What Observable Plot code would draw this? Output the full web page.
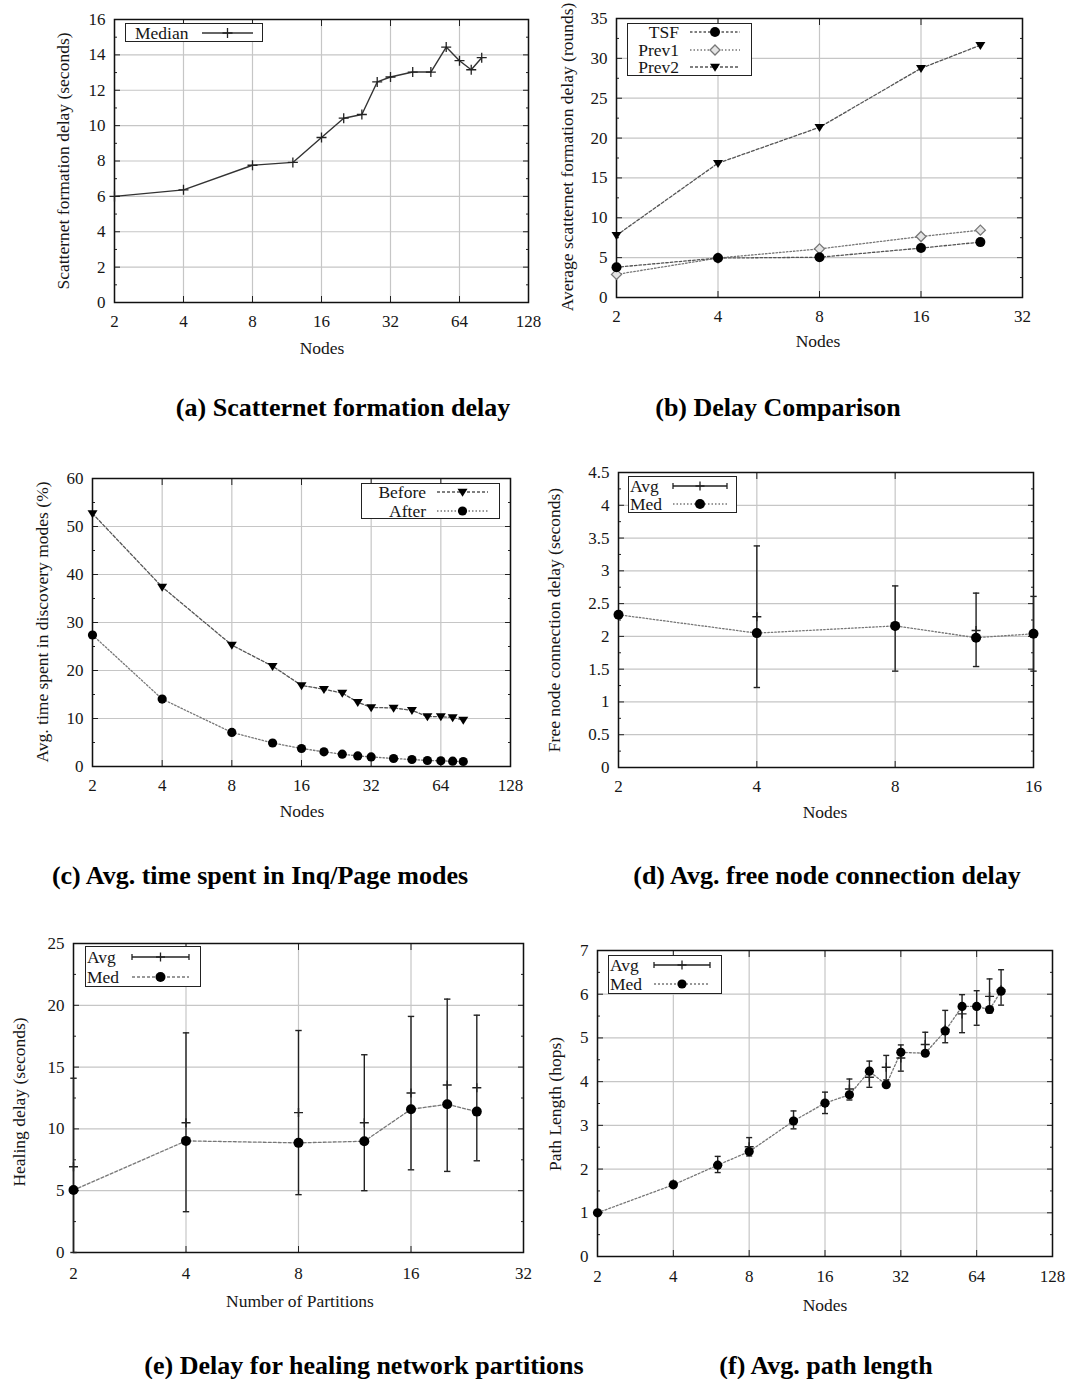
<!DOCTYPE html>
<html><head><meta charset="utf-8">
<script src="https://cdn.jsdelivr.net/npm/d3@7"></script>
<script src="https://cdn.jsdelivr.net/npm/@observablehq/plot@0.6"></script>
<style>
body{margin:0;background:#fff;}
#root{position:relative;width:1069px;height:1379px;overflow:hidden;font-family:"Liberation Serif","Times New Roman",serif;color:#161616;}
.abs{position:absolute;white-space:nowrap;}
.ylab{font-size:17.5px;transform:translate(-50%,-50%) rotate(-90deg);}
.xlab{font-size:17.5px;transform:translate(-50%,-50%);}
.cap{font-size:26px;font-weight:bold;transform:translate(-50%,-50%);color:#000;}
.legbox{border:1.4px solid #222;background:#fff;box-sizing:border-box;}
.legtxt{font-size:17.5px;line-height:18px;}
</style></head>
<body><div id="root"></div>
<script>
// ---------------- data ----------------
// (a) Scatternet formation delay
const nodesA = [2, 4, 8, 12, 16, 20, 24, 28, 32, 40, 48, 56, 64, 72, 80];
const medianA = [6.0, 6.37, 7.76, 7.92, 9.33, 10.42, 10.63, 12.47, 12.75, 13.03, 13.03, 14.44, 13.67, 13.16, 13.84];
// (b) Delay comparison
const nodesB = [2, 4, 8, 16, 24];
const tsfB = [3.8, 4.95, 5.05, 6.2, 6.95];
const prev1B = [2.9, 4.95, 6.1, 7.65, 8.45];
const prev2B = [7.8, 16.85, 21.35, 28.75, 31.65];
// (c) Avg. time spent in Inq/Page modes
const nodesC = [2, 4, 8, 12, 16, 20, 24, 28, 32, 40, 48, 56, 64, 72, 80];
const beforeC = [52.7, 37.4, 25.3, 20.9, 16.9, 16.1, 15.3, 13.4, 12.3, 12.2, 11.7, 10.4, 10.4, 10.2, 9.7];
const afterC = [27.4, 14.05, 7.1, 4.9, 3.75, 3.06, 2.57, 2.2, 2.0, 1.67, 1.46, 1.25, 1.18, 1.1, 1.04];
// (d) Avg. free node connection delay
const nodesD = [2, 4, 8, 12, 16];
const avgD = [2.33, 2.30, 2.15, 2.09, 2.05];
const medD = [2.33, 2.05, 2.16, 1.98, 2.04];
const loD = [2.33, 1.22, 1.47, 1.54, 1.47];
const hiD = [2.33, 3.38, 2.77, 2.66, 2.61];
// (e) Delay for healing network partitions
const partsE = [2, 4, 8, 12, 16, 20, 24];
const avgE = [6.94, 10.5, 11.32, 10.5, 12.9, 13.55, 13.33];
const medE = [5.05, 9.03, 8.87, 9.0, 11.59, 11.99, 11.4];
const loE = [0, 3.3, 4.68, 5.0, 6.69, 6.56, 7.42];
const hiE = [14.1, 17.77, 17.96, 16.0, 19.1, 20.5, 19.2];
// (f) Avg. path length
const nodesF = [2, 4, 6, 8, 12, 16, 20, 24, 28, 32, 40, 48, 56, 64, 72, 80];
const avgF = [1.0, 1.66, 2.1, 2.51, 3.12, 3.5, 3.83, 4.1, 4.33, 4.54, 4.85, 5.2, 5.55, 5.72, 5.95, 6.1];
const medF = [1.0, 1.64, 2.09, 2.4, 3.1, 3.51, 3.7, 4.24, 3.93, 4.67, 4.65, 5.16, 5.72, 5.72, 5.65, 6.07];
const loF = [0.98, 1.6, 1.92, 2.3, 2.92, 3.27, 3.58, 3.87, 4.04, 4.24, 4.6, 4.89, 5.12, 5.29, 5.57, 5.75];
const hiF = [1.02, 1.72, 2.29, 2.72, 3.33, 3.76, 4.06, 4.47, 4.6, 4.84, 5.13, 5.63, 5.99, 6.08, 6.35, 6.56];

// tick labels
const xTicks128 = [2, 4, 8, 16, 32, 64, 128];
const xTicks32 = [2, 4, 8, 16, 32];
const xTicks16 = [2, 4, 8, 16];
const yTicksA = [0, 2, 4, 6, 8, 10, 12, 14, 16];
const yTicksB = [0, 5, 10, 15, 20, 25, 30, 35];
const yTicksC = [0, 10, 20, 30, 40, 50, 60];
const yTicksD = [0, 0.5, 1, 1.5, 2, 2.5, 3, 3.5, 4, 4.5];
const yTicksE = [0, 5, 10, 15, 20, 25];
const yTicksF = [0, 1, 2, 3, 4, 5, 6, 7];

// ---------------- helpers ----------------
const FONT = '"Liberation Serif","Times New Roman",serif';
const GRID = "#c6c6c6";
const root = document.getElementById("root");

const plusSym = {draw(c, s) { const r = Math.sqrt(s / Math.PI); c.moveTo(-r, 0); c.lineTo(r, 0); c.moveTo(0, -r); c.lineTo(0, r); }};
const capSym = {draw(c, s) { const r = Math.sqrt(s / Math.PI); c.moveTo(-r, 0); c.lineTo(r, 0); }};
const triDown = {draw(c, s) { const r = Math.sqrt(s / Math.PI); c.moveTo(-r, -r * 0.65); c.lineTo(r, -r * 0.65); c.lineTo(0, r * 0.95); c.closePath(); }};
const diamondSym = {draw(c, s) { const r = Math.sqrt(s / Math.PI); c.moveTo(0, -r); c.lineTo(r, 0); c.lineTo(0, r); c.lineTo(-r, 0); c.closePath(); }};

function rows(xs, cols) {
  return xs.map((x, i) => { const o = {x}; for (const k in cols) o[k] = cols[k][i]; return o; });
}
function mids(t) { const m = []; for (let i = 0; i < t.length - 1; i++) m.push((t[i] + t[i + 1]) / 2); return m; }

function panel(o) {
  const chart = Plot.plot({
    width: o.W, height: o.H,
    marginLeft: o.fx0 - o.L, marginRight: o.L + o.W - o.fx1,
    marginTop: o.fy0 - o.T, marginBottom: o.T + o.H - o.fy1,
    style: {fontFamily: FONT, fontSize: "17px", color: "#161616", background: "transparent", overflow: "visible"},
    x: {type: "log", base: 2, domain: [o.xTicks[0], o.xTicks[o.xTicks.length - 1]]},
    y: {domain: [o.yTicks[0], o.yTicks[o.yTicks.length - 1]]},
    marks: [
      Plot.gridX(o.xTicks, {stroke: GRID, strokeOpacity: 1, strokeWidth: 1.2}),
      Plot.gridY(o.yTicks, {stroke: GRID, strokeOpacity: 1, strokeWidth: 1.2}),
      Plot.axisX(o.xTicks, {anchor: "bottom", tickSize: -6, fill: "none", label: null, stroke: "#222"}),
      Plot.axisX(o.xTicks, {anchor: "top", tickSize: -6, fill: "none", label: null, stroke: "#222"}),
      Plot.axisY(o.yTicks, {anchor: "left", tickSize: -6, fill: "none", label: null, stroke: "#222"}),
      Plot.axisY(o.yTicks, {anchor: "right", tickSize: -6, fill: "none", label: null, stroke: "#222"}),
      Plot.axisY(mids(o.yTicks), {anchor: "left", tickSize: -3, fill: "none", label: null, stroke: "#222"}),
      Plot.axisY(mids(o.yTicks), {anchor: "right", tickSize: -3, fill: "none", label: null, stroke: "#222"}),
      Plot.axisX(o.xTicks, {anchor: "bottom", tickSize: 0, tickPadding: o.xPad, tickFormat: d => String(d), label: null, fontSize: 17}),
      Plot.axisY(o.yTicks, {anchor: "left", tickSize: 0, tickPadding: 9, tickFormat: d => String(d), label: null, fontSize: 17}),
      Plot.frame({stroke: "#111", strokeWidth: 1.5}),
      ...o.marks
    ]
  });
  chart.style.position = "absolute";
  chart.style.left = o.L + "px";
  chart.style.top = o.T + "px";
  root.appendChild(chart);
}

function text(cls, str, x, y) {
  const d = document.createElement("div");
  d.className = "abs " + cls;
  d.textContent = str;
  d.style.left = x + "px"; d.style.top = y + "px";
  root.appendChild(d);
  return d;
}

function sample(x0, x1, y, k) {
  const w = x1 - x0, h = 20;
  const svg = d3.create("svg").attr("width", w + 2).attr("height", h)
    .style("position", "absolute").style("left", (x0 - 1) + "px").style("top", (y - h / 2) + "px").style("overflow", "visible");
  const cy = h / 2, cx = w / 2 + 1;
  svg.append("line").attr("x1", 1).attr("x2", w + 1).attr("y1", cy).attr("y2", cy)
    .attr("stroke", k.stroke).attr("stroke-width", k.sw || 1.3).attr("stroke-dasharray", k.dash || null);
  if (k.err) {
    for (const xx of [1, w + 1]) svg.append("line").attr("x1", xx).attr("x2", xx).attr("y1", cy - 3).attr("y2", cy + 3).attr("stroke", k.stroke).attr("stroke-width", 1.3);
  }
  if (k.sym) {
    svg.append("path").attr("transform", `translate(${cx},${cy})`)
      .attr("d", d3.symbol(k.sym, k.r * k.r * Math.PI)())
      .attr("fill", k.fill || "none").attr("stroke", k.symStroke || "none").attr("stroke-width", 1.3);
  }
  root.appendChild(svg.node());
}
function box(x0, y0, x1, y1) {
  const d = document.createElement("div");
  d.className = "abs legbox";
  d.style.left = x0 + "px"; d.style.top = y0 + "px";
  d.style.width = (x1 - x0) + "px"; d.style.height = (y1 - y0) + "px";
  root.appendChild(d);
}
function legText(str, x, y, right) {
  const d = text("legtxt", str, x, y);
  d.style.transform = right ? "translate(-100%,-50%)" : "translate(0,-50%)";
}

// dash styles
const DASH_B_TSF = "2.5,2", DASH_B_P1 = "1.5,2", DASH_B_P2 = "3,2";
const DASH_C_BEFORE = "3,2", DASH_C_AFTER = "1.5,2";

// ---------------- (a) ----------------
const dataA = rows(nodesA, {y: medianA});
panel({L: 0, T: 0, W: 545, H: 360, fx0: 114, fx1: 528, fy0: 19, fy1: 302, xTicks: xTicks128, yTicks: yTicksA, xPad: 12,
  marks: [
    Plot.line(dataA, {x: "x", y: "y", stroke: "#333", strokeWidth: 1.4}),
    Plot.dot(dataA, {x: "x", y: "y", symbol: plusSym, r: 5, stroke: "#222", fill: "none", strokeWidth: 1.3})
  ]});
text("ylab", "Scatternet formation delay (seconds)", 63, 161);
text("xlab", "Nodes", 322, 348);
text("cap", "(a) Scatternet formation delay", 343, 408);
box(125, 23, 263, 42);
legText("Median", 135, 32.5, false);
sample(202, 253, 32.5, {stroke: "#333", sym: plusSym, r: 5, symStroke: "#222"});

// ---------------- (b) ----------------
const dataB = rows(nodesB, {tsf: tsfB, prev1: prev1B, prev2: prev2B});
panel({L: 545, T: 0, W: 524, H: 360, fx0: 616, fx1: 1022, fy0: 18, fy1: 297, xTicks: xTicks32, yTicks: yTicksB, xPad: 12,
  marks: [
    Plot.line(dataB, {x: "x", y: "prev1", stroke: "#777", strokeWidth: 1.3, strokeDasharray: DASH_B_P1}),
    Plot.line(dataB, {x: "x", y: "tsf", stroke: "#555", strokeWidth: 1.3, strokeDasharray: DASH_B_TSF}),
    Plot.line(dataB, {x: "x", y: "prev2", stroke: "#555", strokeWidth: 1.3, strokeDasharray: DASH_B_P2}),
    Plot.dot(dataB, {x: "x", y: "prev1", symbol: diamondSym, r: 5, fill: "#e4e4e4", stroke: "#777", strokeWidth: 1.3}),
    Plot.dot(dataB, {x: "x", y: "tsf", symbol: "circle", r: 5, fill: "#000", stroke: "none"}),
    Plot.dot(dataB, {x: "x", y: "prev2", symbol: triDown, r: 5, fill: "#000", stroke: "none"})
  ]});
text("ylab", "Average scatternet formation delay (rounds)", 567, 157);
text("xlab", "Nodes", 818, 341);
text("cap", "(b) Delay Comparison", 778, 408);
box(627, 23, 752, 76);
legText("TSF", 679, 32, true);
legText("Prev1", 679, 49.5, true);
legText("Prev2", 679, 67, true);
sample(690, 740, 32, {stroke: "#555", dash: DASH_B_TSF, sym: d3.symbolCircle, r: 5, fill: "#000"});
sample(690, 740, 49.5, {stroke: "#777", dash: DASH_B_P1, sym: diamondSym, r: 5, fill: "#e4e4e4", symStroke: "#777"});
sample(690, 740, 67, {stroke: "#555", dash: DASH_B_P2, sym: triDown, r: 5, fill: "#000"});

// ---------------- (c) ----------------
const dataC = rows(nodesC, {before: beforeC, after: afterC});
panel({L: 0, T: 460, W: 545, H: 370, fx0: 92, fx1: 510, fy0: 478, fy1: 766, xTicks: xTicks128, yTicks: yTicksC, xPad: 12,
  marks: [
    Plot.line(dataC, {x: "x", y: "before", stroke: "#555", strokeWidth: 1.3, strokeDasharray: DASH_C_BEFORE}),
    Plot.line(dataC, {x: "x", y: "after", stroke: "#777", strokeWidth: 1.3, strokeDasharray: DASH_C_AFTER}),
    Plot.dot(dataC, {x: "x", y: "before", symbol: triDown, r: 5, fill: "#000", stroke: "none"}),
    Plot.dot(dataC, {x: "x", y: "after", symbol: "circle", r: 4.6, fill: "#000", stroke: "none"})
  ]});
text("ylab", "Avg. time spent in discovery modes (%)", 42, 622);
text("xlab", "Nodes", 302, 811);
text("cap", "(c) Avg. time spent in Inq/Page modes", 260, 876);
box(361, 483, 500, 519);
legText("Before", 426, 492, true);
legText("After", 426, 510.5, true);
sample(437, 488, 492, {stroke: "#555", dash: DASH_C_BEFORE, sym: triDown, r: 5, fill: "#000"});
sample(437, 488, 510.5, {stroke: "#777", dash: DASH_C_AFTER, sym: d3.symbolCircle, r: 4.6, fill: "#000"});

// ---------------- error-bar panels ----------------
function errMarks(data, dash, dotR, capR, avgR) {
  return [
    Plot.line(data, {x: "x", y: "med", stroke: "#777", strokeWidth: 1.3, strokeDasharray: dash}),
    Plot.ruleX(data, {x: "x", y1: "lo", y2: "hi", stroke: "#222", strokeWidth: 1.4}),
    Plot.dot(data, {x: "x", y: "hi", symbol: capSym, r: capR, stroke: "#222", fill: "none", strokeWidth: 1.4}),
    Plot.dot(data, {x: "x", y: "lo", symbol: capSym, r: capR, stroke: "#222", fill: "none", strokeWidth: 1.4}),
    Plot.dot(data, {x: "x", y: "avg", symbol: plusSym, r: avgR, stroke: "#222", fill: "none", strokeWidth: 1.4}),
    Plot.dot(data, {x: "x", y: "med", symbol: "circle", r: dotR, fill: "#000", stroke: "none"})
  ];
}

// ---------------- (d) ----------------
const dataD = rows(nodesD, {avg: avgD, med: medD, lo: loD, hi: hiD});
panel({L: 545, T: 460, W: 524, H: 370, fx0: 618, fx1: 1033, fy0: 472, fy1: 767, xTicks: xTicks16, yTicks: yTicksD, xPad: 12,
  marks: errMarks(dataD, "1.5,2", 5, 3.2, 4.5)});
text("ylab", "Free node connection delay (seconds)", 554, 620);
text("xlab", "Nodes", 825, 812);
text("cap", "(d) Avg. free node connection delay", 827, 876);
box(628, 476, 737, 513);
legText("Avg", 630, 486, false);
legText("Med", 630, 504, false);
sample(673, 727, 486, {stroke: "#222", err: true, sym: plusSym, r: 4.5, symStroke: "#222"});
sample(673, 727, 504, {stroke: "#777", dash: "1.5,2", sym: d3.symbolCircle, r: 5, fill: "#000"});

// ---------------- (e) ----------------
const dataE = rows(partsE, {avg: avgE, med: medE, lo: loE, hi: hiE});
panel({L: 0, T: 925, W: 545, H: 370, fx0: 73, fx1: 523, fy0: 943, fy1: 1252, xTicks: xTicks32, yTicks: yTicksE, xPad: 14,
  marks: errMarks(dataE, "3,2", 5, 3.2, 4.5)});
text("ylab", "Healing delay (seconds)", 19, 1102);
text("xlab", "Number of Partitions", 300, 1301);
text("cap", "(e) Delay for healing network partitions", 364, 1366);
box(85, 946, 201, 987);
legText("Avg", 87, 957, false);
legText("Med", 87, 977, false);
sample(132, 189, 957, {stroke: "#222", err: true, sym: plusSym, r: 4.5, symStroke: "#222"});
sample(132, 189, 977, {stroke: "#777", dash: "3,2", sym: d3.symbolCircle, r: 5, fill: "#000"});

// ---------------- (f) ----------------
const dataF = rows(nodesF, {avg: avgF, med: medF, lo: loF, hi: hiF});
panel({L: 545, T: 925, W: 524, H: 370, fx0: 597, fx1: 1052, fy0: 950, fy1: 1256, xTicks: xTicks128, yTicks: yTicksF, xPad: 13,
  marks: errMarks(dataF, "2,2", 4.6, 3, 4.5)});
text("ylab", "Path Length (hops)", 555, 1104);
text("xlab", "Nodes", 825, 1305);
text("cap", "(f) Avg. path length", 826, 1366);
box(608, 955, 722, 994);
legText("Avg", 610, 965, false);
legText("Med", 610, 984, false);
sample(654, 710, 965, {stroke: "#222", err: true, sym: plusSym, r: 4.5, symStroke: "#222"});
sample(654, 710, 984, {stroke: "#777", dash: "2,2", sym: d3.symbolCircle, r: 4.6, fill: "#000"});
</script>
</body></html>
